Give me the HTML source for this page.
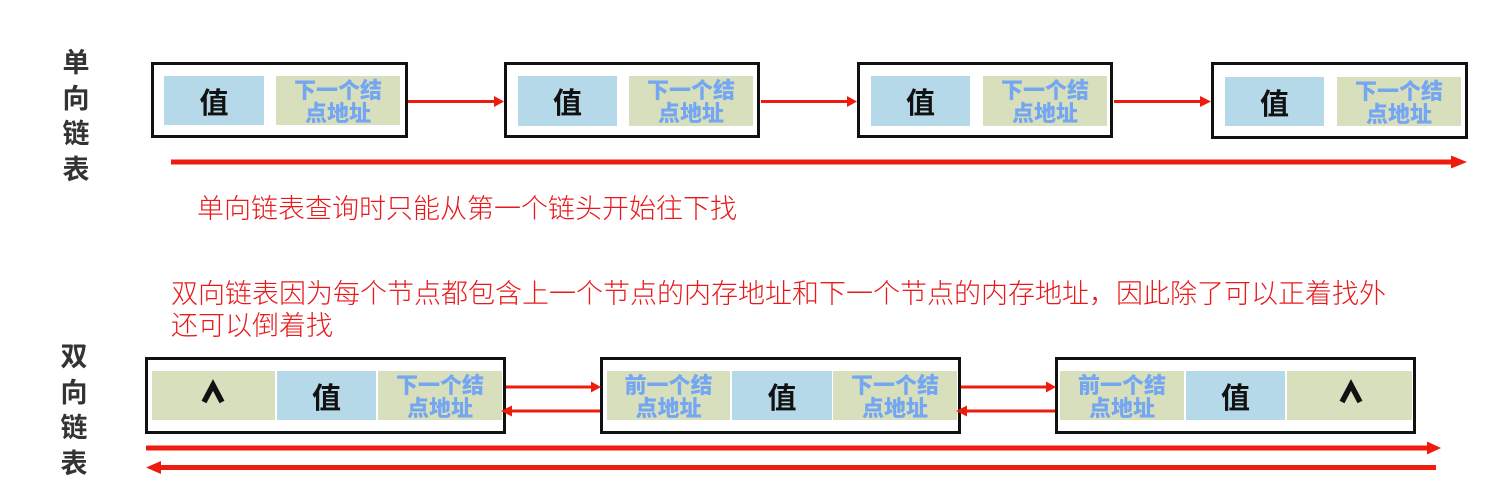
<!DOCTYPE html>
<html><head><meta charset="utf-8">
<style>
html,body{margin:0;padding:0;background:#fff;}
body{width:1504px;height:500px;position:relative;overflow:hidden;font-family:"Liberation Sans","Noto Sans CJK SC",sans-serif;}
.abs{position:absolute;}
.box{position:absolute;border:3.5px solid #111;box-sizing:border-box;background:#fff;}
.cell{position:absolute;display:flex;align-items:center;justify-content:center;text-align:center;}
.b{background:#b5d9e8;}
.g{background:#d7dfbd;}
.val{font-family:"Noto Sans CJK SC",sans-serif;font-weight:bold;font-size:29px;color:#111;}
.addr{font-family:"Noto Sans CJK SC",sans-serif;font-weight:900;font-size:22px;line-height:23px;color:#74a6f2;}
.side{position:absolute;width:30px;text-align:center;font-family:"Noto Sans CJK SC",sans-serif;font-weight:bold;font-size:27px;line-height:35.7px;color:#333;}
.red{position:absolute;font-family:"Noto Sans CJK SC",sans-serif;font-size:27px;color:#e8191b;white-space:nowrap;font-weight:300;}
</style></head><body>

<!-- side labels -->
<div class="side" style="left:61px;top:43px;">单<br>向<br>链<br>表</div>
<div class="side" style="left:59px;top:337px;">双<br>向<br>链<br>表</div>

<!-- top row boxes -->
<div class="box" style="left:151px;top:62px;width:257px;height:76px;"></div>
<div class="box" style="left:504px;top:62px;width:256px;height:76px;"></div>
<div class="box" style="left:857px;top:62px;width:256px;height:76px;"></div>
<div class="box" style="left:1211px;top:62px;width:257px;height:77px;"></div>

<div class="cell b val" style="left:164px;top:76px;width:100px;height:49px;">值</div>
<div class="cell g addr" style="left:276px;top:76px;width:124px;height:49px;">下一个结<br>点地址</div>
<div class="cell b val" style="left:518px;top:76px;width:99px;height:50px;">值</div>
<div class="cell g addr" style="left:629px;top:76px;width:124px;height:50px;">下一个结<br>点地址</div>
<div class="cell b val" style="left:871px;top:76px;width:99px;height:50px;">值</div>
<div class="cell g addr" style="left:983px;top:76px;width:124px;height:50px;">下一个结<br>点地址</div>
<div class="cell b val" style="left:1225px;top:77px;width:99px;height:49px;">值</div>
<div class="cell g addr" style="left:1337px;top:77px;width:124px;height:49px;">下一个结<br>点地址</div>

<div class="red" style="left:197px;top:189px;line-height:36px;">单向链表查询时只能从第一个链头开始往下找</div>

<div class="red" style="left:171px;top:276px;line-height:32px;">双向链表因为每个节点都包含上一个节点的内存地址和下一个节点的内存地址，因此除了可以正着找外<br>还可以倒着找</div>

<!-- bottom row boxes -->
<div class="box" style="left:145px;top:357px;width:361px;height:77px;"></div>
<div class="box" style="left:600px;top:357px;width:361px;height:77px;"></div>
<div class="box" style="left:1055px;top:357px;width:361px;height:77px;"></div>

<div class="cell g" style="left:152px;top:371px;width:123px;height:49px;"></div>
<div class="cell b val" style="left:277px;top:371px;width:99px;height:49px;">值</div>
<div class="cell g addr" style="left:378px;top:371px;width:124px;height:49px;">下一个结<br>点地址</div>

<div class="cell g addr" style="left:607px;top:371px;width:123px;height:49px;">前一个结<br>点地址</div>
<div class="cell b val" style="left:732px;top:371px;width:100px;height:49px;">值</div>
<div class="cell g addr" style="left:833px;top:371px;width:124px;height:49px;">下一个结<br>点地址</div>

<div class="cell g addr" style="left:1060px;top:371px;width:124px;height:49px;">前一个结<br>点地址</div>
<div class="cell b val" style="left:1186px;top:371px;width:99px;height:49px;">值</div>
<div class="cell g" style="left:1287px;top:371px;width:125px;height:49px;"></div>

<svg class="abs" style="left:0;top:0;" width="1504" height="500" viewBox="0 0 1504 500">
  <!-- caret symbols -->
  <polyline points="204,402 213,385 222,402" fill="none" stroke="#111" stroke-width="5.5" stroke-linejoin="miter"/>
  <polyline points="1342,402 1351,385 1360,402" fill="none" stroke="#111" stroke-width="5.5" stroke-linejoin="miter"/>

  <g fill="#ee1c0e" stroke="none">
    <!-- top small arrows -->
    <rect x="408" y="100" width="88" height="3"/>
    <polygon points="494,96 504,101.5 494,107"/>
    <rect x="761" y="100" width="88" height="3"/>
    <polygon points="847,96 857,101.5 847,107"/>
    <rect x="1114" y="100" width="88" height="3"/>
    <polygon points="1200,96 1211,101.5 1200,107"/>

    <!-- top long arrow -->
    <rect x="171" y="159.5" width="1282" height="5"/>
    <polygon points="1451,155.5 1467,162 1451,168.5"/>

    <!-- bottom between arrows -->
    <rect x="506" y="385.5" width="86" height="3"/>
    <polygon points="591,381.5 601,387 591,392.5"/>
    <rect x="510" y="409.5" width="90" height="3"/>
    <polygon points="512,405.5 501,411 512,416.5"/>

    <rect x="961" y="385.5" width="86" height="3"/>
    <polygon points="1046,381.5 1056,387 1046,392.5"/>
    <rect x="965" y="409.5" width="90" height="3"/>
    <polygon points="967,405.5 956,411 967,416.5"/>

    <!-- bottom long arrows -->
    <rect x="146" y="445.5" width="1283" height="5"/>
    <polygon points="1427,441.5 1441,448 1427,454.5"/>
    <rect x="158" y="465" width="1278" height="5"/>
    <polygon points="161,461 146,467.5 161,474"/>
  </g>
</svg>
</body></html>
